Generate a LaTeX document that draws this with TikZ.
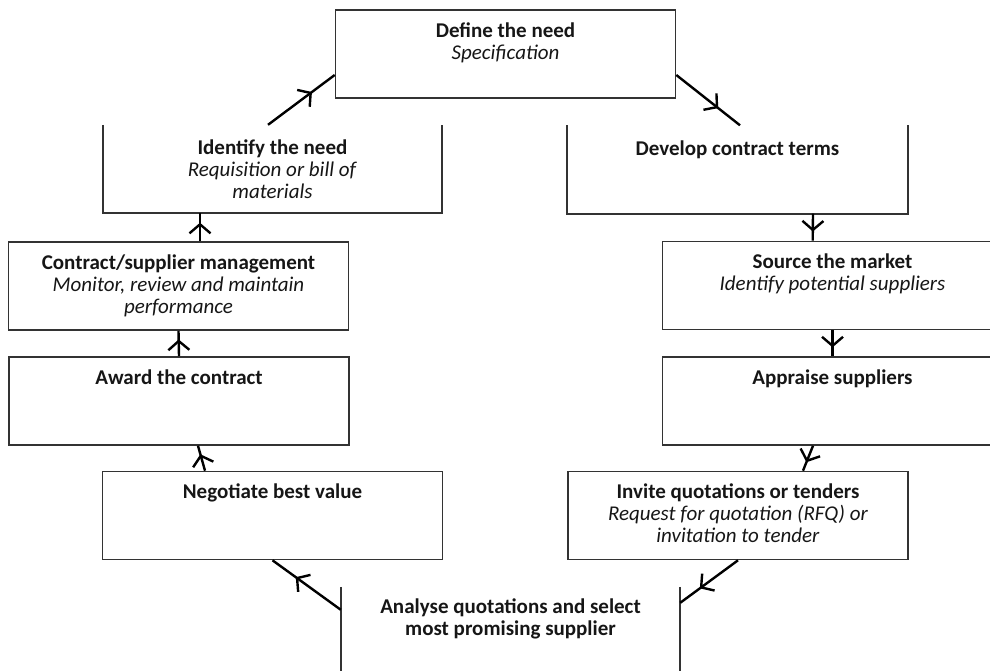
\documentclass[tikz,border=0pt]{standalone}
\usepackage{fontspec}
\setmainfont{Carlito}
\usetikzlibrary{arrows.meta,decorations.markings,calc}
\definecolor{boxline}{HTML}{333333}
\definecolor{txt}{HTML}{161616}
\tikzset{
  stagebox/.style={draw=boxline, line width=1.6pt, minimum width=340pt, minimum height=88pt, inner sep=0pt},
  openbox/.style={draw=none, minimum width=340pt, minimum height=88pt, inner sep=0pt},
  boxedge/.style={draw=boxline, line width=1.6pt},
  stagetext/.style={anchor=north, inner sep=0pt, align=center, text=txt, font=\fontsize{21}{22}\selectfont},
  flow/.style={draw=black, line width=2.4pt, postaction=decorate,
    decoration={markings, mark=at position 0.66 with {\arrow{Straight Barb[length=9pt,width=21pt,line width=2.4pt]}}}},
}
\begin{document}
\begin{tikzpicture}[x=1pt,y=-1pt]
\useasboundingbox (0,0) rectangle (990,670);
\clip (0,0) rectangle (990,670);
% boxes
\node[stagebox] (define) at (505.5,54) {};
\node[openbox, minimum width=339pt] (ident) at (272.5,169) {};
\node[openbox, minimum width=341pt] (develop) at (737.5,169.5) {};
\node[stagebox] (contract) at (178.5,286) {};
\node[stagebox] (award) at (179,401) {};
\node[stagebox] (negotiate) at (272.5,515.5) {};
\node[stagebox] (source) at (832.5,285.5) {};
\node[stagebox] (appraise) at (832.5,401) {};
\node[stagebox] (invite) at (738,515.5) {};
\node[openbox, minimum width=339pt] (analyse) at (510.5,631) {};
\draw[boxedge] (ident.north west) -- (ident.south west) -- (ident.south east) -- (ident.north east);
\draw[boxedge] (develop.north west) -- (develop.south west) -- (develop.south east) -- (develop.north east);
\draw[boxedge] (analyse.north west) -- (analyse.south west);
\draw[boxedge] (analyse.north east) -- (analyse.south east);
% texts
\node[stagetext] (defineT) at ([yshift=-13pt]define.north) {\textbf{Define the need}\\\textit{Specification}};
\node[stagetext] (identT) at ([yshift=-15pt]ident.north) {\textbf{Identify the need}\\\textit{Requisition or bill of}\\\textit{materials}};
\node[stagetext] (developT) at ([yshift=-15pt]develop.north) {\textbf{Develop contract terms}};
\node[stagetext] (contractT) at ([yshift=-13pt]contract.north) {\textbf{Contract/supplier management}\\\textit{Monitor, review and maintain}\\\textit{performance}};
\node[stagetext] (sourceT) at ([yshift=-13pt]source.north) {\textbf{Source the market}\\\textit{Identify potential suppliers}};
\node[stagetext] (awardT) at ([yshift=-13pt]award.north) {\textbf{Award the contract}};
\node[stagetext] (appraiseT) at ([yshift=-13pt]appraise.north) {\textbf{Appraise suppliers}};
\node[stagetext] (negotiateT) at ([yshift=-13pt]negotiate.north) {\textbf{Negotiate best value}};
\node[stagetext] (inviteT) at ([yshift=-13pt]invite.north) {\textbf{Invite quotations or tenders}\\\textit{Request for quotation (RFQ) or}\\\textit{invitation to tender}};
\node[stagetext] (analyseT) at ([yshift=-12pt]analyse.north) {\textbf{Analyse quotations and select}\\\textbf{most promising supplier}};
% connectors
\draw[flow] ([xshift=-4.5pt]ident.north) -- ([yshift=-21pt]define.west);
\draw[flow] ([yshift=-21pt]define.east) -- ([xshift=2.5pt]develop.north);
\draw[flow] ([xshift=75.5pt]develop.south) -- ([xshift=151pt]source.north west);
\draw[flow] (source.south) -- (appraise.north);
\draw[flow] ([xshift=-19.5pt]appraise.south) -- ([xshift=65pt]invite.north);
\draw[flow] (invite.south) -- ([yshift=-16pt]analyse.north east);
\draw[flow] ([yshift=-23pt]analyse.north west) -- (negotiate.south);
\draw[flow] ([xshift=-67.5pt]negotiate.north) -- ([xshift=19pt]award.south);
\draw[flow] (award.north) -- (contract.south);
\draw[flow] ([xshift=21.5pt]contract.north) -- ([xshift=-72.5pt]ident.south);
\end{tikzpicture}
\end{document}
